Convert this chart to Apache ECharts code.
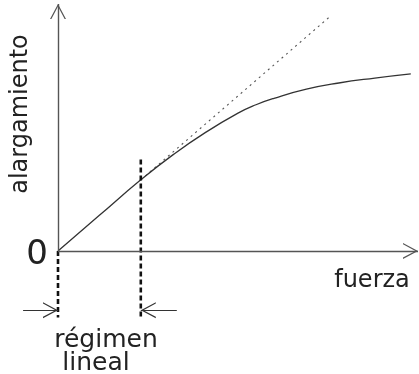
<!DOCTYPE html>
<html>
<head>
<meta charset="utf-8">
<script src="https://cdn.jsdelivr.net/npm/echarts@6/dist/echarts.min.js"></script>
<style>
  html, body { margin: 0; padding: 0; background: #fff; }
  #chart { width: 419px; height: 374px; }
</style>
</head>
<body>
<div id="chart"></div>
<script>
// Elongation vs. force: straight at first, then bending away from the straight line.
const curveX = [0, 1.15, 2.3, 3.2, 4.1, 5.0, 5.5, 6.0, 6.9, 7.8, 8.8, 9.8];
const curveY = [0, 1.44, 2.88, 3.9, 4.8, 5.58, 5.92, 6.18, 6.55, 6.8, 7.0, 7.17];

// Extension of the initial straight part
const tangentX = [2.3, 7.6];
const tangentY = [2.88, 9.55];

// Limits of the linear regime
const linearEnd = 2.3;
const guideTop = 3.7;
const guideBottom = -2.7;
const bracketY = -2.4;
const bracketLeftStart = -0.97;
const bracketRightStart = 3.3;

// Axis extents (arrows drawn at the far ends)
const axisMaxX = 10;
const axisMaxY = 10;

// Text labels
const yLabel = 'alargamiento';
const xLabel = 'fuerza';
const originLabel = '0';
const regimeLines = ['régimen', 'lineal'];

const pair = (xs, ys) => xs.map((x, i) => [x, ys[i]]);

// Open arrowhead: the tip sits at the centre of the symbol box (a tiny
// point at the top balances the box), so it lands exactly on the end point.
const chevron = 'path://M0,15 L8,30 L6.6,30 L0,17.6 L-6.6,30 L-8,30 Z M0,0 L0.01,0 L0,0.01 Z';
const arrowSize = [16, 30];
const axisStyle = { color: '#555', width: 1.4, type: 'solid' };
const bracketStyle = { color: '#333', width: 1.1, type: 'solid' };
const guideStyle = { color: '#111', width: 2.6, type: [5, 3] };
const txt = '#222';
const fontFam = '"DejaVu Sans", "Liberation Sans", sans-serif';

const chart = echarts.init(document.getElementById('chart'), null, { renderer: 'canvas' });

const label = (text, x, y, size, extra) => Object.assign({
  type: 'text', x: x, y: y,
  style: { text: text, font: size + 'px ' + fontFam, fill: txt, align: 'center', verticalAlign: 'middle' }
}, extra || {});

chart.setOption({
  animation: false,
  backgroundColor: '#fff',
  grid: { left: 22, right: 1, top: 4, bottom: 49 },
  xAxis: {
    type: 'value', min: -1, max: axisMaxX,
    axisLine: { show: false }, axisTick: { show: false },
    axisLabel: { show: false }, splitLine: { show: false }
  },
  yAxis: {
    type: 'value', min: -3, max: axisMaxY,
    axisLine: { show: false }, axisTick: { show: false },
    axisLabel: { show: false }, splitLine: { show: false }
  },
  series: [
    {
      name: 'curva', type: 'line', smooth: 0.5, symbol: 'none',
      lineStyle: { color: '#333', width: 1.3 },
      data: pair(curveX, curveY), z: 3
    },
    {
      name: 'tangente', type: 'line', symbol: 'none',
      lineStyle: { color: '#555', width: 1.1, type: [2, 4] },
      data: pair(tangentX, tangentY), z: 2
    },
    {
      name: 'limite', type: 'line', symbol: 'none', lineStyle: guideStyle,
      data: [[linearEnd, guideTop], [linearEnd, guideBottom]], z: 4
    },
    {
      name: 'origen', type: 'line', symbol: 'none', lineStyle: guideStyle,
      data: [[0, 0], [0, guideBottom]], z: 4
    },
    {
      name: 'ejes', type: 'line', symbol: 'none', data: [], z: 1,
      markLine: {
        silent: true, animation: false,
        label: { show: false },
        symbol: ['none', chevron],
        symbolSize: arrowSize,
        lineStyle: axisStyle,
        data: [
          [{ coord: [0, 0] }, { coord: [axisMaxX, 0] }],
          [{ coord: [0, 0] }, { coord: [0, axisMaxY] }],
          [{ coord: [bracketLeftStart, bracketY], lineStyle: bracketStyle },
           { coord: [0, bracketY] }],
          [{ coord: [bracketRightStart, bracketY], lineStyle: bracketStyle },
           { coord: [linearEnd, bracketY] }]
        ]
      }
    }
  ],
  graphic: [
    label(yLabel, 21, 114, 24, { rotation: Math.PI / 2 }),
    label(xLabel, 372, 281, 24),
    label(originLabel, 37, 255, 34),
    label(regimeLines[0], 106, 340, 25),
    label(regimeLines[1], 96, 363, 25)
  ]
});
</script>
</body>
</html>
